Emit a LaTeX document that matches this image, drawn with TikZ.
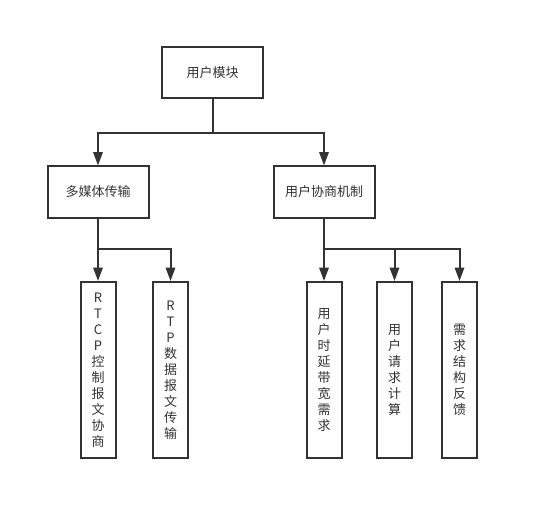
\documentclass[tikz,border=0pt]{standalone}
\usepackage{fontspec}
\setmainfont{Noto Sans CJK SC}
\usetikzlibrary{arrows.meta}
\definecolor{linegray}{RGB}{51,51,51}

\tikzset{
  box/.style={draw=linegray, line width=1.5pt, fill=white, inner sep=0pt,
    minimum width=75.75pt, minimum height=38.25pt,
    font=\fontsize{9.75}{12}\selectfont, text=linegray},
  leaf/.style={draw=linegray, line width=1.5pt, fill=white, inner sep=0pt,
    minimum width=26.25pt, minimum height=132pt, align=center,
    font=\fontsize{9.75}{12}\selectfont, text=linegray},
  link/.style={draw=linegray, line width=1.5pt,
    -{Triangle[length=10pt,width=7pt]}},
  trunk/.style={draw=linegray, line width=1.5pt},
}

\begin{document}
\begin{tikzpicture}[x=0.75pt,y=0.75pt,yscale=-1,xscale=1]
        \useasboundingbox (0,0) rectangle (538,520);

        % Boxes
        \node[box] (user) at (212.5,73) {用户模块};
        \node[box] (media) at (98,192) {多媒体传输};
        \node[box] (nego) at (324,192) {用户协商机制};

        % Leaf boxes
        \node[leaf] (rtcp) at (98,370) {R\\T\\C\\P\\控\\制\\报\\文\\协\\商};
        \node[leaf] (rtp) at (170.5,370) {R\\T\\P\\数\\据\\报\\文\\传\\输};
        \node[leaf] (delay) at (324,370) {用\\户\\时\\延\\带\\宽\\需\\求};
        \node[leaf] (calc) at (394.5,370) {用\\户\\请\\求\\计\\算};
        \node[leaf] (feed) at (459.5,370) {需\\求\\结\\构\\反\\馈};

        % Junctions
        \coordinate (jtop) at (212.5,133);
        \coordinate (jleft) at (98,249);
        \coordinate (jright) at (324,249);

        % Connectors
        \draw[trunk] (user.south) -- (jtop);
        \draw[link] (jtop) -| (media.north);
        \draw[link] (jtop) -| (nego.north);

        \draw[trunk] (media.south) -- (jleft);
        \draw[link] (jleft) -| (rtcp.north);
        \draw[link] (jleft) -| (rtp.north);

        \draw[trunk] (nego.south) -- (jright);
        \draw[link] (jright) -| (delay.north);
        \draw[link] (jright) -| (calc.north);
        \draw[link] (jright) -| (feed.north);

\end{tikzpicture}
\end{document}
